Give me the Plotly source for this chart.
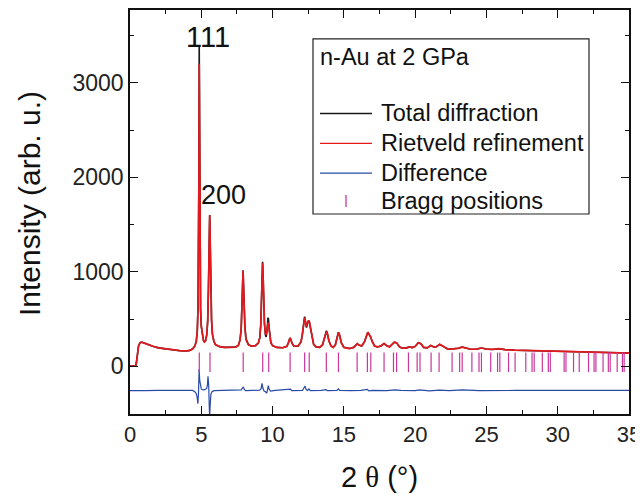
import plotly.graph_objects as go

# ---------------- data ----------------
two_theta = [0.00, 0.40, 0.45, 0.52, 0.60, 0.70, 0.80, 0.95, 1.20, 1.60, 2.00, 2.50, 3.00, 3.50, 3.95,
             4.20, 4.40, 4.55, 4.65, 4.72, 4.77, 4.80, 4.83, 4.855, 4.88, 4.91, 4.95, 5.00, 5.07, 5.15,
             5.22, 5.30, 5.38, 5.45, 5.50, 5.55, 5.59, 5.63, 5.67, 5.72, 5.78, 5.88, 6.00, 6.30, 6.60,
             7.00, 7.40, 7.60, 7.72, 7.80, 7.86, 7.90, 7.93, 7.96, 8.00, 8.06, 8.14, 8.30, 8.50, 8.80,
             9.00, 9.10, 9.17, 9.22, 9.26, 9.30, 9.34, 9.38, 9.43, 9.50, 9.55, 9.60, 9.64, 9.68, 9.71,
             9.75, 9.80, 9.88, 10.00, 10.30, 10.70, 11.00, 11.10, 11.17, 11.22, 11.28, 11.36, 11.50, 11.80, 12.00,
             12.10, 12.18, 12.25, 12.31, 12.38, 12.45, 12.52, 12.58, 12.66, 12.75, 12.88, 13.05, 13.30, 13.50, 13.62,
             13.72, 13.78, 13.85, 13.95, 14.10, 14.25, 14.40, 14.52, 14.62, 14.70, 14.82, 15.00, 15.40, 15.70, 15.85,
             15.94, 16.05, 16.25, 16.45, 16.58, 16.68, 16.78, 16.88, 16.98, 17.15, 17.35, 17.60, 17.82, 18.00, 18.20,
             18.40, 18.55, 18.72, 18.90, 19.10, 19.40, 19.60, 19.80, 20.00, 20.22, 20.40, 20.60, 20.85, 21.10, 21.30,
             21.50, 21.72, 21.95, 22.30, 22.70, 23.00, 23.30, 23.60, 23.90, 24.30, 24.65, 25.00, 25.40, 25.90, 26.30,
             27.00, 27.50, 28.00, 28.50, 29.00, 29.50, 30.00, 30.50, 31.00, 31.50, 32.00, 32.50, 33.00, 33.50, 34.00,
             34.50, 35.00]

observed = [2, 2, 40, 150, 215, 248, 256, 248, 232, 212, 195, 183, 172, 165, 162,
            168, 185, 215, 265, 380, 620, 1000, 2000, 3400, 2000, 1100, 600, 420, 320, 275,
            258, 270, 330, 480, 800, 1300, 1600, 1250, 820, 480, 340, 265, 228, 208, 200,
            198, 203, 220, 280, 400, 620, 850, 1015, 880, 640, 420, 290, 232, 215, 218,
            245, 300, 430, 650, 920, 1105, 930, 650, 450, 330, 310, 360, 440, 515, 500,
            420, 320, 250, 218, 200, 196, 210, 245, 285, 300, 285, 245, 212, 215, 260,
            340, 450, 526, 470, 410, 450, 484, 470, 400, 300, 232, 205, 200, 225, 290,
            360, 375, 345, 270, 215, 200, 225, 300, 360, 330, 250, 200, 188, 200, 228,
            240, 225, 215, 260, 330, 361, 335, 310, 265, 215, 205, 215, 240, 218, 205,
            235, 256, 245, 205, 192, 195, 205, 198, 210, 249, 238, 200, 195, 221, 205,
            208, 232, 215, 182, 185, 190, 203, 190, 180, 182, 193, 182, 178, 186, 176,
            170, 168, 165, 163, 164, 160, 159, 158, 155, 154, 152, 150, 149, 147, 145,
            143, 140]

calculated = [2, 2, 40, 150, 215, 248, 256, 248, 232, 212, 195, 183, 172, 165, 162,
              168, 185, 215, 262, 370, 600, 960, 1850, 3200, 2000, 1150, 620, 430, 320, 275,
              258, 270, 330, 480, 800, 1300, 1600, 1300, 850, 500, 345, 265, 228, 208, 200,
              198, 203, 220, 280, 400, 620, 850, 1010, 860, 620, 400, 280, 228, 213, 218,
              245, 300, 430, 650, 900, 1090, 930, 660, 460, 345, 340, 375, 420, 460, 455,
              400, 310, 250, 218, 200, 196, 210, 245, 285, 300, 285, 245, 212, 215, 260,
              340, 440, 515, 465, 420, 455, 484, 470, 400, 300, 232, 205, 200, 225, 290,
              355, 368, 340, 270, 215, 200, 225, 300, 360, 330, 250, 200, 188, 200, 228,
              240, 225, 215, 260, 330, 361, 335, 310, 265, 215, 205, 215, 240, 218, 205,
              235, 256, 245, 205, 192, 195, 205, 198, 210, 249, 238, 200, 195, 221, 205,
              208, 232, 215, 182, 185, 190, 203, 190, 180, 182, 193, 182, 178, 186, 176,
              170, 168, 165, 163, 164, 160, 159, 158, 155, 154, 152, 150, 149, 147, 145,
              143, 140]

diff_theta = [0.0, 0.5, 1.0, 2.0, 3.0, 4.0, 4.40, 4.55, 4.65, 4.71, 4.76, 4.80, 4.85, 4.89, 4.94,
              5.00, 5.10, 5.25, 5.38, 5.43, 5.47, 5.52, 5.555, 5.585, 5.62, 5.67, 5.75, 5.90, 6.50, 7.50,
              7.80, 7.90, 7.95, 8.02, 8.10, 8.60, 9.10, 9.20, 9.26, 9.32, 9.40, 9.50, 9.58, 9.63, 9.70,
              9.76, 9.85, 10.20, 11.15, 11.25, 11.35, 12.10, 12.22, 12.28, 12.35, 12.45, 12.55, 12.65, 13.40, 13.75,
              13.85, 14.50, 14.62, 14.70, 15.50, 16.20, 16.65, 16.75, 17.00, 18.00, 18.60, 19.00, 20.00, 20.30, 21.00,
              21.70, 22.40, 23.30, 24.50, 25.50, 27.00, 28.50, 30.00, 31.50, 33.00, 35.00]
difference = [-258, -255, -258, -255, -257, -254, -256, -270, -290, -330, -395, -300, -30, -150, -225,
              -240, -250, -248, -235, -200, -105, -200, -400, -540, -420, -300, -270, -258, -255, -255,
              -250, -228, -218, -245, -258, -255, -252, -235, -180, -230, -262, -270, -285, -260, -205,
              -240, -262, -255, -250, -243, -258, -255, -225, -210, -245, -255, -240, -258, -255, -248,
              -258, -255, -240, -255, -258, -255, -245, -260, -255, -258, -250, -256, -258, -250, -260,
              -252, -258, -250, -258, -255, -256, -254, -257, -255, -256, -256]

bragg_positions = [4.86, 5.61, 7.94, 9.31, 9.73, 11.23, 12.25, 12.57, 13.77, 14.62, 15.93, 16.65, 16.89,
                   17.82, 18.48, 18.70, 19.53, 20.14, 20.34, 21.12, 21.68, 22.59, 23.12, 23.30, 23.98,
                   24.48, 24.65, 25.30, 25.78, 25.94, 26.55, 27.01, 27.76, 28.20, 28.35, 28.92, 29.34,
                   29.48, 30.45, 30.58, 31.11, 31.51, 32.16, 32.55, 32.68, 33.18, 33.55, 33.68, 34.17,
                   34.54, 34.66]
bragg_level = 42

x_ticks = [0, 5, 10, 15, 20, 25, 30, 35]
y_ticks = [0, 1000, 2000, 3000]
legend_labels = ["Total diffraction", "Rietveld refinement", "Difference", "Bragg positions"]
legend_title = "n-Au at 2 GPa"
peak_labels = ["111", "200"]

# ---------------- figure ----------------
FONT = "Liberation Sans, Arial, sans-serif"
SERIF = "Liberation Serif, Times New Roman, serif"
BLACK = "#1a1a1a"
RED = "#e3191e"
BLUE = "#2a4aa8"
MAG = "#c8379c"

OFF = 8  # page body margin of the browser
SL, SR, ST, SB = 130, 629, 8, 414      # plot area in screenshot pixels
W, H = 643 - OFF, 495 - OFF
L, R, T, B = SL - OFF, SR - OFF, ST - OFF, SB - OFF


def px(x):
    return (x - SL) / (SR - SL)


def py(y):
    return (SB - y) / (SB - ST)


fig = go.Figure()
fig.add_trace(go.Scatter(x=two_theta, y=observed, mode="lines",
                         line=dict(color=BLACK, width=1.6), name=legend_labels[0]))
fig.add_trace(go.Scatter(x=two_theta, y=calculated, mode="lines",
                         line=dict(color=RED, width=1.7), name=legend_labels[1]))
fig.add_trace(go.Scatter(x=diff_theta, y=difference, mode="lines",
                         line=dict(color=BLUE, width=1.2), name=legend_labels[2]))
fig.add_trace(go.Scatter(x=bragg_positions, y=[bragg_level] * len(bragg_positions), mode="markers",
                         marker=dict(symbol="line-ns", size=14, line=dict(color=MAG, width=1.2)),
                         name=legend_labels[3]))

axis_common = dict(showline=True, linecolor="#111", linewidth=1.5, mirror="ticks",
                   ticks="inside", ticklen=8, tickwidth=1.3, tickcolor="#111",
                   showgrid=False, zeroline=False)
minor_common = dict(ticks="inside", ticklen=4, tickwidth=1.3, tickcolor="#111")

fig.update_xaxes(range=[0, 35], tickvals=x_ticks,
                 tickfont=dict(family=FONT, size=22, color="#222"),
                 minor=dict(dtick=2.5, tick0=0, **minor_common), **axis_common)
fig.update_yaxes(range=[-505, 3770], tickvals=y_ticks,
                 tickfont=dict(family=FONT, size=23, color="#222"),
                 minor=dict(dtick=500, tick0=0, **minor_common), **axis_common)

annotations = [
    dict(x=5.5, y=3480, xref="x", yref="y", text=peak_labels[0], showarrow=False,
         font=dict(family=FONT, size=29, color="#111"), xanchor="center", yanchor="middle"),
    dict(x=6.56, y=1810, xref="x", yref="y", text=peak_labels[1], showarrow=False,
         font=dict(family=FONT, size=27, color="#111"), xanchor="center", yanchor="middle"),
    dict(x=px(29), y=py(203), xref="paper", yref="paper", text="Intensity (arb. u.)", textangle=-90,
         showarrow=False, font=dict(family=FONT, size=30, color="#111"), xanchor="center", yanchor="middle"),
    dict(x=px(379), y=py(477), xref="paper", yref="paper",
         text="2 <span style=\"font-family:Liberation Serif\">\u03b8</span> (\u00b0)",
         showarrow=False, font=dict(family=FONT, size=29, color="#111"), xanchor="center", yanchor="middle"),
    dict(x=px(318), y=py(55), xref="paper", yref="paper", text=legend_title, showarrow=False,
         font=dict(family=FONT, size=23.5, color="#111"), xanchor="left", yanchor="middle"),
]
shapes = [
    dict(type="rect", xref="paper", yref="paper", x0=px(313), x1=px(589), y0=py(37), y1=py(213),
         line=dict(color="#222", width=1.2), fillcolor="rgba(0,0,0,0)"),
]
legend_rows = [112, 142, 172, 200]
legend_colors = [BLACK, RED, BLUE]
for i, lab in enumerate(legend_labels):
    yy = legend_rows[i]
    annotations.append(dict(x=px(379), y=py(yy), xref="paper", yref="paper", text=lab, showarrow=False,
                            font=dict(family=FONT, size=23.5, color="#111"), xanchor="left", yanchor="middle"))
    if i < 3:
        shapes.append(dict(type="line", xref="paper", yref="paper", x0=px(320), x1=px(372),
                           y0=py(yy), y1=py(yy), line=dict(color=legend_colors[i], width=1.3)))
    else:
        shapes.append(dict(type="line", xref="paper", yref="paper", x0=px(346), x1=px(346),
                           y0=py(yy - 6), y1=py(yy + 6), line=dict(color=MAG, width=1.3)))

fig.update_layout(width=W, height=H, margin=dict(l=L, r=W - R, t=T, b=H - B),
                  paper_bgcolor="white", plot_bgcolor="white", showlegend=False,
                  annotations=annotations, shapes=shapes)

fig.write_html("out.html")
